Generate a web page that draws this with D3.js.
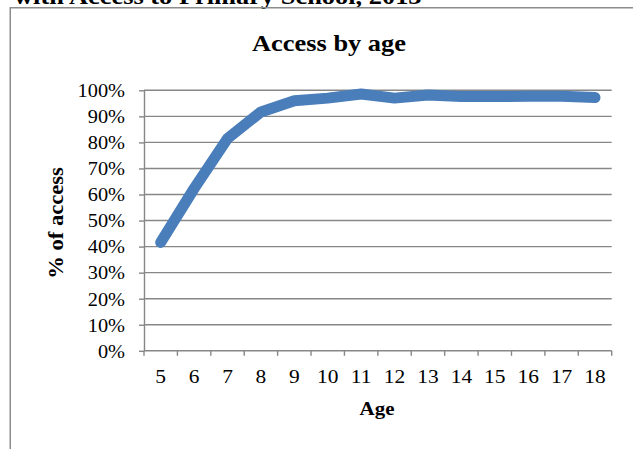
<!DOCTYPE html>
<html>
<head>
<meta charset="utf-8">
<script src="https://cdn.jsdelivr.net/npm/d3@7/dist/d3.min.js"></script>
<style>
  html, body { margin: 0; padding: 0; background: #fff; }
  svg { display: block; }
  text { font-family: "Liberation Serif", "Times New Roman", serif; fill: #000; }
</style>
</head>
<body>
<svg id="chart" width="633" height="449"></svg>
<script>
// ---- data ----
const ages = ["5","6","7","8","9","10","11","12","13","14","15","16","17","18"];
const access = [41.6, 62.3, 81.5, 91.7, 96.0, 97.0, 98.6, 97.0, 98.2, 97.6, 97.6, 97.7, 97.7, 97.2];
const yTicks = [0,10,20,30,40,50,60,70,80,90,100];
const chartTitle = "Access by age";
const xTitle = "Age";
const yTitle = "% of access";
const headerText = "with Access to Primary School, 2013";

(function () {
// ---- layout ----
const svg = d3.select("#chart");
const pLeft = 144, pRight = 611.7, pTop = 90.3, pBottom = 350.8;
const SX = 1.1; // horizontal text stretch seen in reference
const gridColor = "#878787";

const x = d3.scaleBand().domain(ages).range([pLeft, pRight]);
const y = d3.scaleLinear().domain([0, 100]).range([pBottom, pTop]);

function stretchedText(g, tx, ty, str, opts) {
  return g.append("text")
    .attr("transform", `translate(${tx},${ty}) scale(${SX},1)`)
    .attr("text-anchor", opts.anchor || "middle")
    .style("font-size", opts.size + "px")
    .style("font-weight", opts.bold ? "bold" : "normal")
    .text(str);
}

// header text cut off at the top (as in the reference)
stretchedText(svg, 14, 4, headerText, {anchor: "start", size: 24, bold: true});

// chart frame
svg.append("rect")
  .attr("x", 10.25).attr("y", 7.75)
  .attr("width", 700).attr("height", 600)
  .attr("fill", "none").attr("stroke", "#8c8c8c").attr("stroke-width", 1.5);

// title
stretchedText(svg, 329, 51, chartTitle, {size: 24, bold: true});

// gridlines
svg.append("g").selectAll("line").data(yTicks.filter(d => d > 0)).join("line")
  .attr("x1", pLeft).attr("x2", pRight)
  .attr("y1", d => y(d)).attr("y2", d => y(d))
  .attr("stroke", gridColor).attr("stroke-width", 1.4);

// y axis
const yAxis = svg.append("g").attr("transform", `translate(${pLeft},0)`)
  .call(d3.axisLeft(y).tickValues(yTicks).tickFormat(d => d + "%").tickSize(5).tickSizeOuter(0).tickPadding(14));
yAxis.attr("font-family", null).attr("font-size", null);
yAxis.select(".domain").attr("stroke", gridColor).attr("stroke-width", 1.4);
yAxis.selectAll(".tick line").attr("stroke", gridColor).attr("stroke-width", 1.4);
yAxis.selectAll(".tick text")
  .style("font-size", "18.5px")
  .attr("fill", "#000")
  .attr("dy", "0.34em")
  .attr("transform", function () { const xx = +d3.select(this).attr("x"); return `translate(${xx * (1 - SX)},0) scale(${SX},1)`; });

// x axis (ticks between categories)
const xAxisG = svg.append("g").attr("transform", `translate(0,${pBottom})`);
xAxisG.append("line").attr("x1", pLeft).attr("x2", pRight).attr("stroke", gridColor).attr("stroke-width", 1.4);
const boundaries = ages.map(a => x(a)).concat([pRight]);
xAxisG.selectAll("line.tk").data(boundaries).join("line").attr("class", "tk")
  .attr("x1", d => d).attr("x2", d => d).attr("y1", 0).attr("y2", 5)
  .attr("stroke", gridColor).attr("stroke-width", 1.4);
ages.forEach(a => {
  stretchedText(xAxisG, x(a) + x.bandwidth() / 2, 32, a, {size: 19.5});
});

// axis titles
stretchedText(svg, 377, 415, xTitle, {size: 19, bold: true});
svg.append("text")
  .attr("transform", `translate(63,223) rotate(-90) scale(${SX},1)`)
  .attr("text-anchor", "middle")
  .style("font-size", "20.5px").style("font-weight", "bold")
  .text(yTitle);

// line
const line = d3.line().x((d, i) => x(ages[i]) + x.bandwidth() / 2).y(d => y(d));
svg.append("path").datum(access)
  .attr("d", line)
  .attr("fill", "none").attr("stroke", "#4a7ebb").attr("stroke-width", 11)
  .attr("stroke-linejoin", "round").attr("stroke-linecap", "round");
})();
</script>
</body>
</html>
